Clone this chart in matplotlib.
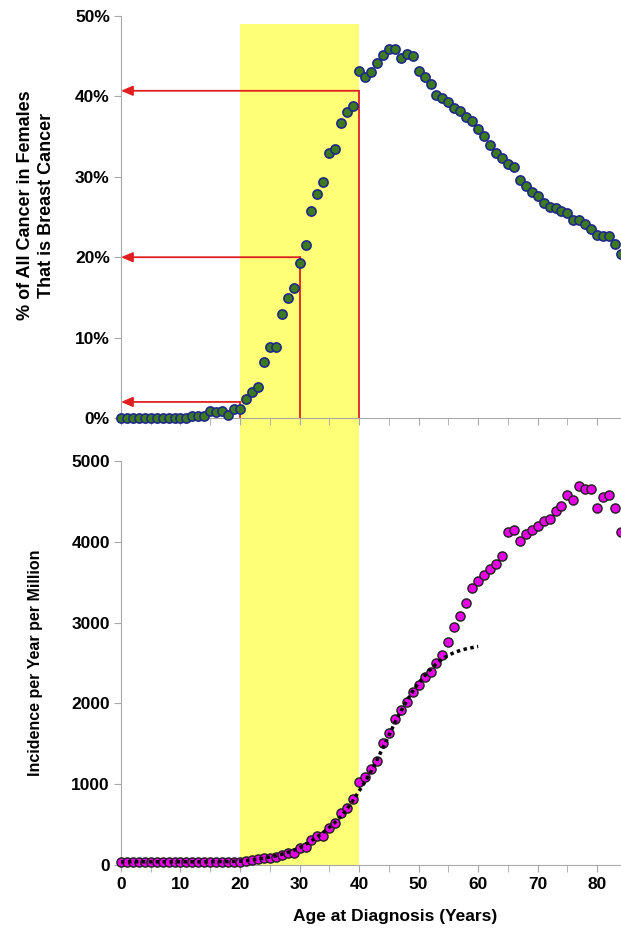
import matplotlib
matplotlib.use("Agg")
import matplotlib.pyplot as plt
from matplotlib.patches import Rectangle
from matplotlib.transforms import blended_transform_factory
from matplotlib.ticker import MultipleLocator, FuncFormatter

plt.rcParams['font.family'] = ['Liberation Sans', 'DejaVu Sans']
plt.rcParams['font.weight'] = 'bold'

# Edad al diagnostico (anos)
edades = list(range(0, 85))

# % de todos los canceres en mujeres que es cancer de mama
porcentaje_mama = [
    0, 0, 0, 0, 0, 0, 0, 0, 0, 0, 0, 0, 0.2, 0.2, 0.2,
    0.9, 0.7, 0.9, 0.4, 1.1, 1.1, 2.4, 3.2, 3.9, 7.0, 8.8, 8.8, 12.9, 14.9, 16.2,
    19.3, 21.5, 25.7, 27.9, 29.4, 32.9, 33.4, 36.7, 38.0, 38.8, 43.2, 42.4, 43.0, 44.2, 45.2,
    45.9, 45.9, 44.8, 45.3, 45.0, 43.2, 42.4, 41.5, 40.2, 39.8, 39.3, 38.6, 38.2, 37.5, 36.9,
    36.0, 35.1, 34.0, 32.9, 32.3, 31.6, 31.2, 29.6, 28.8, 28.1, 27.6, 26.8, 26.3, 26.1, 25.7,
    25.5, 24.6, 24.6, 24.1, 23.5, 22.8, 22.6, 22.6, 21.7, 20.4,
]

# Incidencia por ano por millon
incidencia = [
    40, 40, 40, 40, 40, 40, 40, 40, 40, 40, 40, 40, 40, 40, 40,
    40, 40, 40, 41, 41, 41, 49, 62, 74, 83, 91, 103, 124, 144, 144,
    206, 227, 309, 359, 359, 454, 516, 640, 709, 820, 1027, 1089, 1186, 1285, 1506,
    1637, 1803, 1914, 2017, 2145, 2228, 2331, 2393, 2496, 2600, 2760, 2950, 3082, 3238, 3428,
    3511, 3589, 3663, 3721, 3828, 4121, 4146, 4014, 4097, 4146, 4199, 4257, 4282, 4385, 4443,
    4575, 4521, 4686, 4657, 4653, 4414, 4550, 4575, 4414, 4121,
]

# Curva ajustada (punteada) hasta los 60 anos
edades_ajuste = list(range(0, 61))
incidencia_ajuste = [
    40, 40, 40, 40, 40, 40, 40, 40, 40, 40, 40, 40, 40, 40, 40,
    40, 41, 42, 43, 45, 48, 54, 62, 72, 84, 98, 114, 133, 155, 180,
    215, 255, 300, 350, 405, 465, 530, 605, 695, 800, 915, 1030, 1160, 1300, 1450,
    1600, 1760, 1900, 2030, 2150, 2250, 2340, 2420, 2490, 2550, 2595, 2630, 2655, 2675, 2690,
    2705,
]

# Flechas rojas: edad de la linea vertical y nivel marcado en el eje
flecha_edades = [20, 30, 40]
flecha_niveles = [2.0, 20.0, 40.7]

rango_amarillo = (20, 40)

amarillo = '#ffff77'
rojo = '#e02020'
gris = '#a8a8a8'

fig = plt.figure(figsize=(6.21, 9.31), dpi=100)
fig.patch.set_facecolor('white')

ax1 = fig.add_axes([0.1948, 0.551, 0.8052, 0.4318])
ax2 = fig.add_axes([0.1948, 0.0709, 0.8052, 0.434])

for ax in (ax1, ax2):
    ax.set_facecolor('none')
    ax.spines['top'].set_visible(False)
    ax.spines['right'].set_visible(False)
    ax.spines['left'].set_color(gris)
    ax.spines['bottom'].set_color(gris)
    ax.set_xlim(0, 84)
    ax.xaxis.set_major_locator(MultipleLocator(10))
    ax.xaxis.set_minor_locator(MultipleLocator(5))
    ax.tick_params(which='both', direction='out', color=gris, labelsize=12.5)
    ax.tick_params(axis='x', which='both', length=5)
    ax.tick_params(axis='y', length=5, pad=3)

# franja amarilla 20-40 anos que atraviesa los dos paneles
trans = blended_transform_factory(ax1.transData, fig.transFigure)
y_abajo = 0.0709
y_arriba = 1 - 24 / 931
franja = Rectangle((rango_amarillo[0], y_abajo), rango_amarillo[1] - rango_amarillo[0],
                   y_arriba - y_abajo, transform=trans, facecolor=amarillo,
                   edgecolor='none', zorder=-1)
fig.add_artist(franja)

# ---- panel superior ----
ax1.set_ylim(0, 50)
ax1.yaxis.set_major_locator(MultipleLocator(10))
ax1.yaxis.set_major_formatter(FuncFormatter(lambda v, p: f"{v:.0f}%"))
ax1.tick_params(axis='x', labelbottom=False)

for edad, nivel in zip(flecha_edades, flecha_niveles):
    ax1.plot([edad, edad], [0, nivel], color=rojo, lw=1.3, zorder=2, clip_on=False)
    ax1.annotate('', xy=(0, nivel), xytext=(edad, nivel),
                 arrowprops=dict(arrowstyle='-|>,head_length=0.7,head_width=0.3',
                                 mutation_scale=10, color=rojo, lw=1.3,
                                 shrinkA=0, shrinkB=0),
                 annotation_clip=False, zorder=2)

ax1.plot(edades, porcentaje_mama, 'o', ms=6.6, mfc='#3d7a1f', mec='#1f2a86',
         mew=1.2, clip_on=False, zorder=3)

ax1.set_ylabel("% of All Cancer in Females\nThat is Breast Cancer",
               fontsize=13, fontweight='bold', linespacing=1.3)
ax1.yaxis.set_label_coords(-0.132, 0.53)

# ---- panel inferior ----
ax2.set_ylim(0, 5000)
ax2.yaxis.set_major_locator(MultipleLocator(1000))

ax2.plot(edades, incidencia, 'o', ms=6.6, mfc='#e600e6', mec='#202020',
         mew=1.0, clip_on=False, zorder=3)
ax2.plot(edades_ajuste, incidencia_ajuste, color='black', lw=2.5,
         linestyle=(0, (1, 1.0)), zorder=4)

ax2.set_ylabel("Incidence per Year per Million", fontsize=11.5, fontweight='bold')
ax2.yaxis.set_label_coords(-0.156, 0.5)
ax2.set_xlabel("Age at Diagnosis (Years)", fontsize=12.5, fontweight='bold')
ax2.xaxis.set_label_coords(0.549, -0.108)

plt.savefig('out.png', dpi=100)
plt.close()
